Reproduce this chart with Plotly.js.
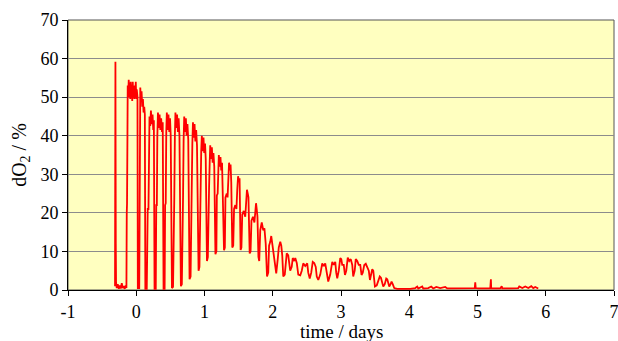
<!DOCTYPE html>
<html>
<head>
<meta charset="utf-8">
<script src="https://cdn.plot.ly/plotly-3.0.1.min.js"></script>
<style>html,body{margin:0;padding:0;background:#fff;}#chart{width:618px;height:341px;}</style>
</head>
<body>
<div id="chart"></div>
<script>
// time in days
const timeDays = [
 -0.311,-0.305,-0.300,-0.296,-0.286,-0.271,-0.256,-0.242,-0.227,-0.212,-0.198,-0.183,-0.168,-0.154,-0.144,
 -0.139,-0.135,-0.129,-0.125,-0.117,-0.110,-0.103,-0.095,-0.088,-0.081,-0.073,-0.066,-0.059,-0.051,-0.044,-0.037,-0.029,-0.022,-0.015,-0.007,0.000,0.007,0.018,0.023,
 0.044,0.051,0.059,0.069,0.078,0.088,0.098,0.107,0.117,0.126,0.133,
 0.154,0.161,0.168,0.179,0.185,0.194,0.205,0.215,0.227,0.239,0.249,0.258,0.268,
 0.286,0.293,0.302,0.309,0.318,0.330,0.342,0.353,0.365,0.377,0.388,0.400,
 0.416,0.423,0.432,0.440,0.448,0.460,0.472,0.484,0.495,0.505,0.523,
 0.539,0.547,0.557,0.566,0.574,0.586,0.598,0.610,0.621,0.633,0.654,
 0.668,0.676,0.686,0.694,0.703,0.715,0.727,0.738,0.750,0.762,0.781,
 0.796,0.803,0.813,0.822,0.831,0.843,0.854,0.866,0.878,0.890,0.913,
 0.926,0.933,0.944,0.952,0.961,0.973,0.985,0.996,1.008,1.018,1.036,
 1.049,1.056,1.067,1.076,1.084,1.096,1.108,1.119,1.131,1.143,1.160,
 1.174,1.181,1.193,1.201,1.210,1.222,1.234,1.245,1.257,1.286,
 1.298,1.307,1.326,1.338,1.348,1.360,1.372,1.382,1.392,1.407,
 1.421,1.433,1.451,1.468,1.480,1.492,1.504,1.514,1.529,
 1.541,1.553,1.575,1.597,1.609,1.622,1.634,1.644,1.662,
 1.675,1.688,1.710,1.731,1.743,1.755,1.765,1.776,1.790,
 1.802,1.817,1.839,1.861,1.878,1.897,1.916,
 1.934,1.946,1.963,1.978,1.993,2.015,2.029,2.051,
 2.073,2.088,2.110,2.125,2.139,2.154,
 2.176,2.190,2.205,2.227,2.242,2.256,
 2.278,2.293,2.315,2.330,2.352,2.374,2.403,
 2.425,2.447,2.476,2.505,2.520,2.542,
 2.564,2.586,2.608,2.630,2.645,2.667,
 2.696,2.725,2.747,2.769,2.791,2.813,
 2.842,2.872,2.894,2.916,2.930,2.945,
 2.967,2.989,3.004,3.018,3.040,3.058,
 3.077,3.099,3.121,3.143,3.165,3.179,
 3.201,3.216,3.238,3.260,3.282,3.301,
 3.319,3.341,3.363,3.385,3.407,3.424,
 3.443,3.458,3.473,3.497,
 3.524,3.546,3.568,3.585,3.619,
 3.641,3.663,3.678,3.707,3.726,3.741,3.758,3.780,3.824,
 3.868,3.941,4.015,4.088,4.117,4.132,4.190,4.205,4.278,4.322,4.352,4.396,4.454,4.527,4.557,4.601,
 4.747,4.894,4.960,4.967,4.974,5.011,5.187,5.196,5.201,5.260,5.333,5.355,5.363,5.480,
 5.597,5.612,5.656,5.700,5.744,5.788,5.817,5.846,5.890
];
// dissolved oxygen, %
const dO2 = [
 1.0,59.2,12,2.0,0.5,1.5,0.3,1.2,0.4,1.8,0.5,1.0,0.3,1.2,0.5,
 20,22.5,40,53,51,54.5,50,53.5,49.5,54,50.5,53,49,54,50,52.5,49.5,53,50,54,49.5,52,50,0.5,
 0.5,50,52.5,49,51.5,47.5,49.5,46,47.5,45.5,0.3,
 0.3,12,21,21,38,45,42.5,46.5,43,45.5,41.5,44,0.3,
 0.3,22,22,40,46,42,45.5,41.5,44.5,41,43.5,0.3,
 0.3,22,22.5,41,46,41.5,45.5,41,44.5,40,0.5,
 0.8,23,23.5,40,46,42,45.5,41,44.5,40,1.0,
 1.5,24,24.5,39,45,41,44.5,40,43,39,2.8,
 3.5,26,26.5,38,43.5,39.5,43,38.5,41.5,37.5,5.0,
 6,27,27,36,40,36,39.5,35.5,38,34,7.5,
 8.5,26,26.5,33,37.5,34,37,33,35.5,32,9.3,
 10,24.5,25,30,35,32,34.5,31,33,10.3,
 11,24,25,24,29,33,31,32.5,28,11,
 11.5,21,22,21,26,29.5,28,29,10.4,
 11,19.5,20.5,19,22,26,25,24,9.5,
 10,18,19,17.5,20,22.5,21,19,8.6,
 7.5,15.5,17.5,15.5,16,12,3.5,
 4.5,11.5,12.5,14,12,9,7,4.3,
 8,11,12.5,11.5,9,3.5,
 4,8,9.5,9,7,5,
 6,8.3,7.5,8.3,7,4,3.8,
 5,6.9,6.2,6.9,4.5,3,
 4.5,7.3,7,6,3.5,2.6,
 4,6.9,6.2,6.9,4,2.2,
 4,7.3,6.5,7.3,4.5,3,
 5,8.3,8,6.5,6.5,3.9,
 5,8.4,7.5,8,6.5,3.5,
 5,8,7.5,6.5,6.5,3.9,
 4.5,6.5,6.8,6,5,2.6,
 4,5.4,5,0.9,
 1.2,2.5,3.5,3.2,0.9,
 1.5,3,2.8,0.9,1.5,2.2,1.5,0.5,0.3,
 0.3,0.4,0.3,0.5,0.9,0.4,0.9,0.4,0.5,0.9,0.4,0.8,0.5,0.8,0.4,0.4,
 0.4,0.4,0.5,2.0,0.5,0.4,0.4,2.8,0.4,0.4,0.4,1.0,0.4,0.4,
 0.5,0.9,0.5,0.9,0.5,1.0,0.5,0.8,0.4
];
const xTicks = [-1,0,1,2,3,4,5,6,7];
const yTicks = [0,10,20,30,40,50,60,70];
const xTitle = 'time / days';
const yTitle = 'dO<sub>2</sub> / %';

const serif = 'Liberation Serif';
const font = {family: serif, size: 18, color: '#000'};

const trace = {
  x: timeDays, y: dO2, type: 'scatter', mode: 'lines',
  line: {color: '#ff0000', width: 1.8},
  hoverinfo: 'skip'
};

const layout = {
  width: 618, height: 341,
  margin: {l: 68, r: 4, t: 20, b: 51},
  paper_bgcolor: '#ffffff',
  plot_bgcolor: '#ffffc0',
  showlegend: false,
  font: font,
  xaxis: {
    range: [-1, 7], tickvals: xTicks, ticktext: xTicks.map(String),
    showgrid: false, zeroline: false,
    showline: true, linecolor: '#000', linewidth: 1,
    ticks: 'outside', ticklen: 5, tickcolor: '#000',
    tickfont: font, ticklabeloverflow: 'allow'
  },
  yaxis: {
    range: [0, 70], tickvals: yTicks, ticktext: yTicks.map(String),
    showgrid: true, gridcolor: '#8c8c8c', gridwidth: 1,
    zeroline: false,
    showline: true, linecolor: '#000', linewidth: 1,
    ticks: 'outside', ticklen: 5, tickcolor: '#000',
    tickfont: font, ticklabeloverflow: 'allow',
    title: {text: yTitle, font: {family: serif, size: 20, color: '#000'}, standoff: 8}
  },
  annotations: [{
    text: xTitle, xref: 'paper', yref: 'paper', x: 0.5, y: -0.152,
    xanchor: 'center', yanchor: 'middle', showarrow: false,
    font: {family: serif, size: 19, color: '#000'}
  }],
  shapes: [{
    type: 'rect', xref: 'paper', yref: 'paper', x0: 0, x1: 1, y0: 0, y1: 1,
    line: {color: '#555555', width: 1}, fillcolor: 'rgba(0,0,0,0)', layer: 'below'
  }]
};

Plotly.newPlot('chart', [trace], layout, {displayModeBar: false, staticPlot: true});
</script>
</body>
</html>
